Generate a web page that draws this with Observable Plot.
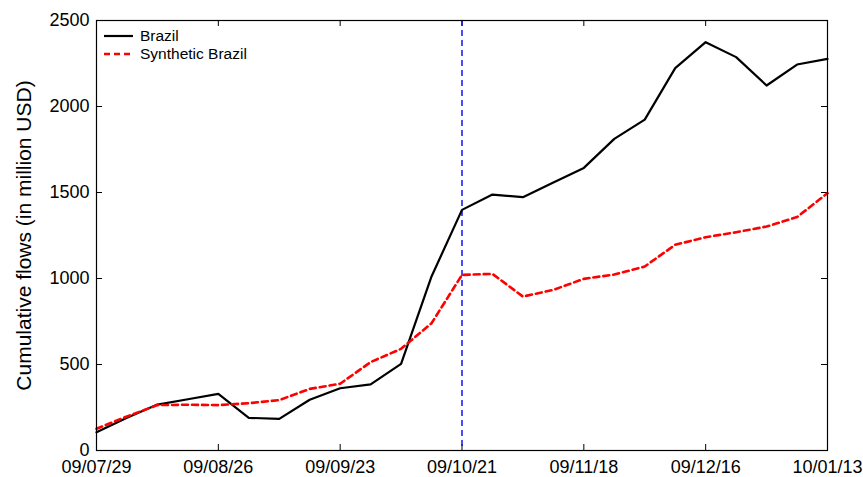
<!DOCTYPE html>
<html><head><meta charset="utf-8">
<script src="https://cdn.jsdelivr.net/npm/d3@7"></script>
<script src="https://cdn.jsdelivr.net/npm/@observablehq/plot@0.6"></script>
<style>
body{margin:0;background:#fff;}
#wrap{position:relative;width:863px;height:477px;font-family:Arial,"Liberation Sans",sans-serif;}
#legend{position:absolute;left:104px;top:26.5px;font-size:15.5px;color:#000;}
.row{display:flex;align-items:center;height:18.5px;}
.row svg{margin-right:7px;}
</style></head><body>
<div id="wrap"><div id="chart"></div><div id="legend"></div></div>
<script>
const dates = ["2009-07-29","2009-08-05","2009-08-12","2009-08-19","2009-08-26","2009-09-02","2009-09-09","2009-09-16","2009-09-23","2009-09-30","2009-10-07","2009-10-14","2009-10-21","2009-10-28","2009-11-04","2009-11-11","2009-11-18","2009-11-25","2009-12-02","2009-12-09","2009-12-16","2009-12-23","2009-12-30","2010-01-06","2010-01-13"];
const brazil = [106,190,267,298,329,190,184,295,362,384,504,1012,1399,1488,1473,1558,1643,1812,1924,2223,2374,2287,2122,2244,2277];
const synthetic = [126,198,264,266,264,275,293,358,388,514,591,740,1021,1027,895,934,998,1023,1070,1196,1240,1269,1302,1357,1496];
const seriesNames = ["Brazil","Synthetic Brazil"];
const xTicks = ["2009-07-29","2009-08-26","2009-09-23","2009-10-21","2009-11-18","2009-12-16","2010-01-13"];
const yTicks = [0,500,1000,1500,2000,2500];
const treatmentDate = "2009-10-21";
const yLabel = "Cumulative flows (in million USD)";

const W=863,H=477,mL=96,mR=36,mT=20,mB=27,tk=6;
const plotH=H-mT-mB, plotW=W-mL-mR;
const parse=d3.utcParse("%Y-%m-%d");
const data=dates.map((d,i)=>({date:parse(d),brazil:brazil[i],synthetic:synthetic[i]}));
const tickDates=xTicks.map(parse);
const font="Arial, 'Liberation Sans', sans-serif";

const chart=Plot.plot({
  width:W,height:H,marginLeft:mL,marginRight:mR,marginTop:mT,marginBottom:mB,
  style:{fontFamily:font,fontSize:"18px",color:"#000",background:"#fff"},
  x:{type:"utc",domain:[parse(dates[0]),parse(dates[dates.length-1])]},
  y:{domain:[0,2500]},
  marks:[
    Plot.axisX(tickDates,{tickSize:0,tickPadding:10,tickFormat:d3.utcFormat("%y/%m/%d"),label:null,fontSize:18}),
    Plot.axisY(yTicks,{tickSize:0,tickPadding:7,label:null,tickFormat:d=>String(d),fontSize:18}),
    Plot.tickX(tickDates,{x:d=>d,insetTop:plotH-tk,stroke:"#000"}),
    Plot.tickX(tickDates,{x:d=>d,insetBottom:plotH-tk,stroke:"#000"}),
    Plot.tickY(yTicks,{y:d=>d,insetRight:plotW-tk,stroke:"#000"}),
    Plot.tickY(yTicks,{y:d=>d,insetLeft:plotW-tk,stroke:"#000"}),
    Plot.ruleX([parse(treatmentDate)],{stroke:"#0000ff",strokeDasharray:"6,4",strokeWidth:1.4}),
    Plot.line(data,{x:"date",y:"brazil",stroke:"#000",strokeWidth:2.2}),
    Plot.line(data,{x:"date",y:"synthetic",stroke:"#ff0000",strokeWidth:2.6,strokeDasharray:"6,4"}),
    Plot.frame({stroke:"#000",strokeWidth:1.2}),
    Plot.text([yLabel],{frameAnchor:"left",dx:-72,rotate:-90,textAnchor:"middle",fontSize:21,fill:"#000"})
  ]
});
document.getElementById("chart").appendChild(chart);

const styles=[{stroke:"#000",dash:null,w:2.2},{stroke:"#ff0000",dash:"6,4",w:2.6}];
const legend=document.getElementById("legend");
seriesNames.forEach((name,i)=>{
  const row=document.createElement("div");row.className="row";
  const s=styles[i];
  row.innerHTML=`<svg width="29" height="18"><line x1="0" x2="29" y1="9" y2="9" stroke="${s.stroke}" stroke-width="${s.w}" ${s.dash?`stroke-dasharray="${s.dash}"`:""}/></svg><span>${name}</span>`;
  legend.appendChild(row);
});
</script>
</body></html>
